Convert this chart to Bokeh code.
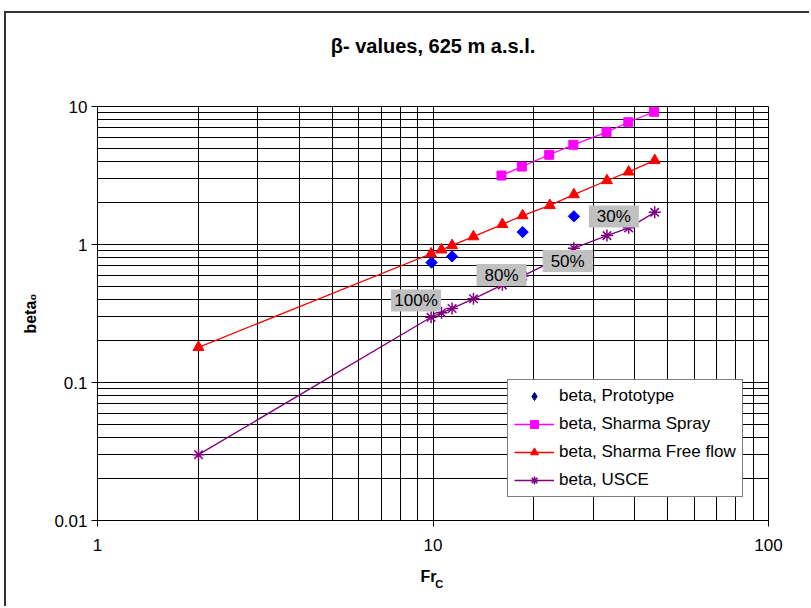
from bokeh.plotting import figure
from bokeh.models import (FixedTicker, CustomJSTickFormatter, Legend, LegendItem,
                          ColumnDataSource, LogAxis)
from bokeh.embed import file_html
from bokeh.resources import INLINE
from bokeh.core.properties import value
import math

# ---------------- data ----------------
fr_proto = [9.9, 11.4, 18.5, 26.3]
beta_proto = [0.74, 0.82, 1.23, 1.60]

fr_spray = [16.0, 18.4, 22.2, 26.2, 32.9, 38.2, 45.6]
beta_spray = [3.16, 3.67, 4.47, 5.28, 6.52, 7.69, 9.16]

fr_free = [2.0, 9.87, 10.6, 11.4, 13.2, 16.1, 18.5, 22.3, 26.3, 33.0, 38.3, 45.8]
beta_free = [0.18, 0.857, 0.916, 0.984, 1.14, 1.40, 1.62, 1.92, 2.30, 2.91, 3.36, 4.07]

fr_usce = [2.0, 9.87, 10.6, 11.4, 13.2, 16.1, 18.5, 22.3, 26.3, 33.0, 38.3, 45.8]
beta_usce = [0.030, 0.297, 0.320, 0.344, 0.404, 0.51, 0.59, 0.74, 0.94, 1.16, 1.32, 1.71]

pct_labels = ["100%", "80%", "50%", "30%"]
pct_x = [8.9, 16.0, 25.2, 34.6]
pct_y = [0.393, 0.601, 0.759, 1.595]

x_major = [1, 10, 100]
y_major = [0.01, 0.1, 1, 10]

title_text = "\u03b2- values, 625 m a.s.l."
ylabel_text = "beta\u2080"
xlabel_main = "Fr\u00a0\u00a0"
xlabel_sub = "\u00a0\u00a0\u00a0\u00a0C"

FONT = "Liberation Sans"

# ---------------- figure ----------------
W, H = 805, 595
p = figure(width=W, height=H, x_axis_type="log", y_axis_type="log",
           x_range=(1, 100), y_range=(0.01, 10), title=None,
           output_backend="svg", toolbar_location=None,
           min_border_left=91, min_border_right=43,
           min_border_top=93, min_border_bottom=88)
p.styles = {"border-left": "2px solid #333333", "border-top": "2px solid #333333",
            "margin-left": "4px", "margin-top": "11px"}
p.background_fill_color = "white"
p.border_fill_color = "white"
p.outline_line_color = "black"

def minors(majors):
    out = []
    for m in majors[:-1]:
        for k in range(2, 10):
            out.append(m * k)
    return out

p.xaxis.ticker = FixedTicker(ticks=x_major, minor_ticks=minors(x_major))
p.yaxis.ticker = FixedTicker(ticks=y_major, minor_ticks=minors(y_major))
p.xgrid.ticker = p.xaxis.ticker
p.ygrid.ticker = p.yaxis.ticker
fmt = CustomJSTickFormatter(code="""
const e = Math.round(Math.log10(tick));
if (e >= 0) { return String(Math.round(Math.pow(10, e))); }
return Math.pow(10, e).toFixed(-e);
""")
p.xaxis.formatter = fmt
p.yaxis.formatter = fmt

for g in (p.xgrid, p.ygrid):
    g.grid_line_color = "black"
    g.grid_line_width = 1
    g.minor_grid_line_color = "black"
    g.minor_grid_line_width = 1

for ax in (p.xaxis, p.yaxis):
    ax.axis_line_color = "black"
    ax.major_tick_line_color = "black"
    ax.major_tick_out = 6
    ax.major_tick_in = 0
    ax.minor_tick_line_color = None
    ax.major_label_text_font = FONT
    ax.major_label_text_font_size = "17px"
    ax.major_label_text_color = "black"
    ax.axis_label_text_font = FONT
    ax.axis_label_text_font_style = "bold"
    ax.axis_label_text_color = "black"
p.xaxis.major_label_standoff = 12
p.yaxis.major_label_standoff = 4
p.yaxis.axis_label = ylabel_text
p.yaxis.axis_label_text_font_size = "16px"
p.yaxis.axis_label_standoff = 12
p.xaxis.axis_label = xlabel_main
p.xaxis.axis_label_text_font_size = "16px"
p.xaxis.axis_label_standoff = 14

# second (empty) axis only to carry the subscript "C"
sub_axis = LogAxis(ticker=FixedTicker(ticks=[]), axis_label=xlabel_sub,
                   axis_line_color=None, major_tick_line_color=None,
                   minor_tick_line_color=None, major_label_text_font_size="0px",
                   axis_label_text_font=FONT, axis_label_text_font_size="11px",
                   axis_label_text_font_style="bold", axis_label_text_color="black",
                   axis_label_standoff=-10)
p.add_layout(sub_axis, "below")

# empty axis above carrying the chart title
title_axis = LogAxis(ticker=FixedTicker(ticks=[]), axis_label=title_text,
                     axis_line_color=None, major_tick_line_color=None,
                     minor_tick_line_color=None, major_label_text_font_size="0px",
                     axis_label_text_font=FONT, axis_label_text_font_size="20px",
                     axis_label_text_font_style="bold", axis_label_text_color="black",
                     axis_label_standoff=50)
p.add_layout(title_axis, "above")

# ---------------- series ----------------
r_free_line = p.line(fr_free, beta_free, line_color="#FF0000", line_width=1.3)
r_spray_line = p.line(fr_spray, beta_spray, line_color="#FF00FF", line_width=1.3)
r_usce_line = p.line(fr_usce, beta_usce, line_color="#800080", line_width=1.3)

r_spray = p.scatter(fr_spray, beta_spray, marker="square", size=9,
                    fill_color="#FF00FF", line_color="#FF00FF")
r_free = p.scatter(fr_free, beta_free, marker="triangle", size=11,
                   fill_color="#FF0000", line_color="#FF0000")
r_usce = p.scatter(fr_usce, beta_usce, marker="asterisk", size=12,
                   line_color="#800080", line_width=1.5)
# legend swatch (navy diamond), fully hidden below the plotted markers
r_proto_leg = p.scatter(fr_proto, beta_proto, marker="diamond", size=10,
                        fill_color="#000080", line_color="#000080")
r_proto = p.scatter(fr_proto, beta_proto, marker="square", size=8, angle=math.pi / 4,
                    fill_color="#0000FF", line_color="#0000FF")

# percentage labels
lab_src = ColumnDataSource(dict(x=pct_x, y=pct_y, t=pct_labels))
p.rect(x="x", y="y", width=50, height=22, width_units="screen", height_units="screen",
       fill_color="#C0C0C0", line_color=None, source=lab_src)
p.text(x="x", y="y", text="t", source=lab_src, text_align="center",
       text_baseline="middle", text_font=value(FONT), text_font_size="17px",
       text_color="black")

# ---------------- legend ----------------
legend = Legend(items=[
    LegendItem(label="beta, Prototype", renderers=[r_proto_leg]),
    LegendItem(label="beta, Sharma Spray", renderers=[r_spray_line, r_spray]),
    LegendItem(label="beta, Sharma Free flow", renderers=[r_free_line, r_free]),
    LegendItem(label="beta, USCE", renderers=[r_usce_line, r_usce]),
], location=(410, 23))
legend.label_text_font = FONT
legend.label_text_font_size = "17px"
legend.label_text_color = "black"
legend.glyph_width = 40
legend.glyph_height = 20
legend.label_height = 20
legend.spacing = 8
legend.padding = 6
legend.margin = 0
legend.label_standoff = 5
legend.border_line_color = "black"
legend.border_line_width = 1
legend.background_fill_color = "white"
legend.background_fill_alpha = 1
p.add_layout(legend, "center")

open("out.html", "w").write(file_html(p, INLINE))
